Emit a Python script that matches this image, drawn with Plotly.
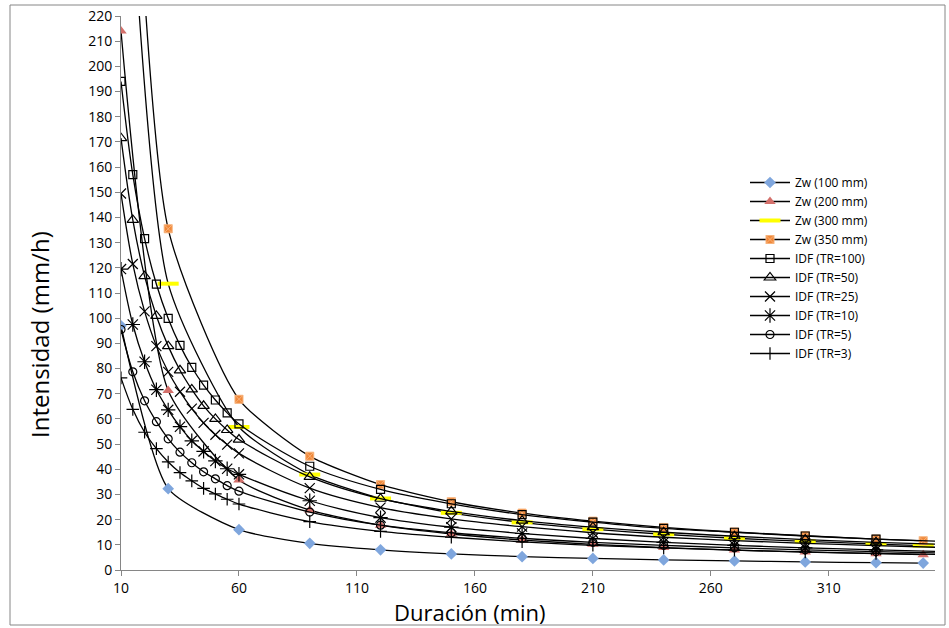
import plotly.graph_objects as go

# Durations (min) for the Zw series and the IDF curves
t_zw = [10, 30, 60, 90, 120, 150, 180, 210, 240, 270, 300, 330, 350]
t_idf = [10, 15, 20, 25, 30, 35, 40, 45, 50, 55, 60, 90, 120, 150, 180, 210,
         240, 270, 300, 330, 360]

# Zw intensities (mm/h)
zw_100 = [97, 32.3, 16, 10.6, 8, 6.4, 5.3, 4.6, 4, 3.6, 3.2, 2.9, 2.75]
zw_200 = [214, 71.3, 35.7, 23.8, 17.8, 14.3, 11.9, 10.2, 8.9, 7.9, 7.1, 6.5, 6.1]
zw_300 = [341, 113.7, 56.8, 37.9, 28.4, 22.7, 18.9, 16.2, 14.2, 12.6, 11.4, 10.3, 9.7]
zw_350 = [406.5, 135.5, 67.8, 45.2, 33.9, 27.1, 22.6, 19.4, 16.9, 15.1, 13.6, 12.3, 11.6]

# IDF intensities (mm/h) for each return period
idf_100 = [194, 157, 131.6, 113.5, 99.9, 89.2, 80.5, 73.4, 67.5, 62.4, 58,
           41.2, 32, 26.3, 22, 19, 16.5, 15, 13.5, 12.3, 11.3]
idf_50 = [171.5, 139, 116.7, 100.9, 88.9, 79.3, 71.7, 65.2, 60, 55.6, 51.8,
          37, 28.3, 23.3, 19.6, 17, 15, 13.4, 12.1, 11, 10.1]
idf_25 = [149.5, 121.5, 102.7, 88.9, 78.7, 70.8, 64.1, 58.4, 53.7, 49.8, 46.3,
          32.5, 24.8, 20.3, 17.2, 14.8, 13, 11.7, 10.6, 9.7, 8.9]
idf_10 = [119.5, 97.5, 82.7, 71.6, 63.6, 56.9, 51.3, 47.1, 43.3, 40.2, 38,
          27.5, 20.8, 17, 14.5, 12.5, 11, 9.8, 8.8, 8, 7.3]
idf_5 = [95.5, 78.7, 67.2, 58.9, 52.1, 46.8, 42.6, 39, 36.2, 33.5, 31.3,
         23, 17.8, 14.8, 12.6, 11, 9.8, 8.8, 8, 7.3, 6.7]
idf_3 = [76.3, 63.8, 54.7, 48.2, 42.9, 38.7, 35.4, 32.4, 30.2, 28.1, 26.2,
         19.2, 15.3, 13, 11.2, 9.8, 8.8, 7.9, 7.2, 6.6, 6.1]

FONT = "Open Sans"

fig = go.Figure()


def add(name, x, y, marker, smoothing=1.0):
    fig.add_trace(go.Scatter(
        x=x, y=y, name=name, mode="lines+markers",
        line=dict(color="black", width=1.3, shape="spline", smoothing=smoothing),
        marker=marker))


add("Zw (100 mm)", t_zw, zw_100,
    dict(symbol="diamond", size=9, color="#7FA6DD", line=dict(width=0)), 0.6)
add("Zw (200 mm)", t_zw, zw_200,
    dict(symbol="triangle-up", size=10, color="#D4706B", line=dict(width=0)), 0.6)
add("Zw (300 mm)", t_zw, zw_300,
    dict(symbol="line-ew", size=15, color="#FFFF00",
         line=dict(width=4, color="#FFFF00")), 0.6)
add("Zw (350 mm)", t_zw, zw_350,
    dict(symbol="square-x", size=8, color="#F0883A",
         line=dict(width=1, color="#F7B27A")), 0.6)


def open_marker(sym, size):
    return dict(symbol=sym, size=size, color="black",
                line=dict(width=1.2, color="black"))


add("IDF (TR=100)", t_idf, idf_100, open_marker("square-open", 8))
add("IDF (TR=50)", t_idf, idf_50, open_marker("triangle-up-open", 10))
add("IDF (TR=25)", t_idf, idf_25, open_marker("x-thin-open", 10))
add("IDF (TR=10)", t_idf, idf_10, open_marker("asterisk-open", 12))
add("IDF (TR=5)", t_idf, idf_5, open_marker("circle-open", 8))
add("IDF (TR=3)", t_idf, idf_3, open_marker("cross-thin-open", 9))

W, H = 949, 628
L, R, T, B = 121, 14, 16, 58
pw, ph = W - L - R, H - T - B


def px(x):
    return (x - L) / pw


def py(y):
    return (H - B - y) / ph


fig.update_layout(
    width=W, height=H,
    margin=dict(l=L, r=R, t=T, b=B),
    paper_bgcolor="white", plot_bgcolor="white",
    font=dict(family=FONT, color="black"),
    showlegend=True,
    legend=dict(x=px(745), y=py(168), xanchor="left", yanchor="top",
                font=dict(family=FONT, size=12, color="black"),
                bgcolor="rgba(0,0,0,0)", tracegroupgap=0, itemwidth=40),
    xaxis=dict(range=[10, 355], tick0=10, dtick=50, showgrid=False,
               zeroline=False, showline=True, linecolor="#868686",
               linewidth=1, ticks="outside", ticklen=5, tickcolor="#868686",
               tickfont=dict(family=FONT, size=14, color="black"),
               automargin=False),
    yaxis=dict(range=[0, 220], dtick=10, showgrid=False, zeroline=False,
               showline=True, linecolor="#868686", linewidth=1,
               ticks="outside", ticklen=5, tickcolor="#868686",
               tickfont=dict(family=FONT, size=14, color="black"),
               automargin=False),
    shapes=[dict(type="rect", xref="paper", yref="paper",
                 x0=px(10), x1=px(945), y0=py(625), y1=py(5),
                 line=dict(color="#868686", width=1), fillcolor="rgba(0,0,0,0)",
                 layer="below")],
    annotations=[
        dict(text="Duración (min)", xref="paper", yref="paper",
             x=px(470), y=py(612), xanchor="center", yanchor="middle",
             showarrow=False, borderpad=0,
             font=dict(family=FONT, size=22, color="black")),
        dict(text="Intensidad (mm/h)", xref="paper", yref="paper",
             x=px(39), y=py(335), xanchor="center", yanchor="middle",
             textangle=-90, showarrow=False,
             font=dict(family=FONT, size=24, color="black")),
    ],
)

fig.write_html("out.html")
